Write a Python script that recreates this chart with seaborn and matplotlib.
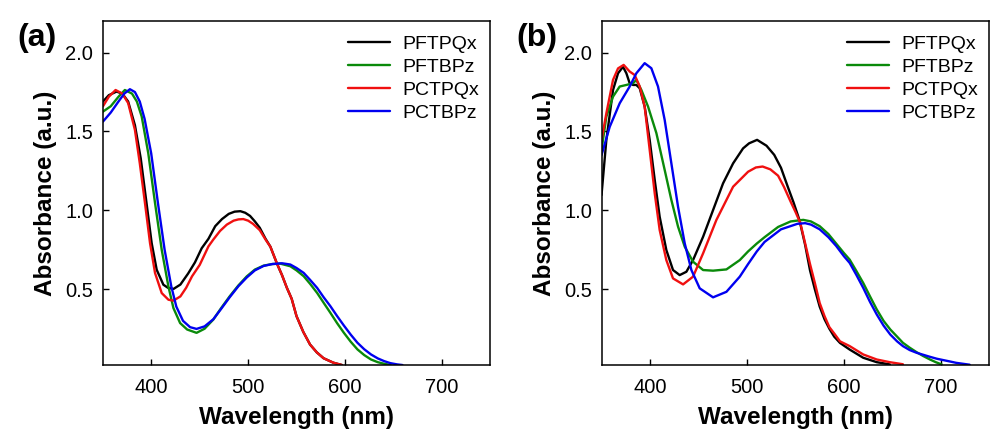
import numpy as np
import pandas as pd
import seaborn as sns
import matplotlib
matplotlib.use("Agg")
import matplotlib.pyplot as plt

series_names = ["PFTPQx", "PFTBPz", "PCTPQx", "PCTBPz"]
series_colors = ["#000000", "#0a8a0a", "#f01010", "#0000f0"]

# ---- Panel (a) ----
a_PFTPQx_x = [350, 356, 364, 370, 376, 383, 389, 395, 400.3, 405.5, 412.4, 417, 422.8, 430, 438, 445, 452, 459, 466, 473, 480, 486, 492, 497, 502, 507, 512, 518, 523, 530, 535, 540, 545, 550, 557, 564, 571, 578, 588, 597]
a_PFTPQx_y = [1.69, 1.73, 1.753, 1.74, 1.69, 1.54, 1.33, 1.046, 0.793, 0.624, 0.529, 0.51, 0.502, 0.53, 0.60, 0.67, 0.76, 0.82, 0.90, 0.945, 0.978, 0.992, 0.995, 0.985, 0.965, 0.93, 0.89, 0.82, 0.77, 0.66, 0.59, 0.51, 0.44, 0.33, 0.23, 0.15, 0.10, 0.063, 0.035, 0.02]

a_PCTPQx_x = [350, 356, 363, 370, 376, 383, 388, 393.4, 398.6, 403.8, 410.7, 417.6, 422.8, 430, 436, 442, 450, 459, 464, 471, 478, 485, 490, 495, 500, 505, 512, 518, 523, 530, 535, 540, 545, 550, 557, 564, 571, 578, 588, 597]
a_PCTPQx_y = [1.66, 1.72, 1.763, 1.74, 1.68, 1.51, 1.30, 1.046, 0.793, 0.603, 0.476, 0.434, 0.428, 0.455, 0.51, 0.582, 0.655, 0.772, 0.815, 0.87, 0.91, 0.935, 0.943, 0.945, 0.935, 0.915, 0.875, 0.815, 0.77, 0.66, 0.59, 0.51, 0.44, 0.33, 0.23, 0.15, 0.10, 0.063, 0.035, 0.02]

a_PFTBPz_x = [350, 358, 366, 372.6, 380, 385, 390, 396.8, 403.8, 410.7, 417.6, 422.8, 429.7, 437, 446.7, 455, 464, 472, 481, 490, 498.6, 507, 516, 525, 533, 543.6, 550, 557.4, 564, 571.3, 578, 585, 592, 599, 606, 613, 620, 627, 634, 640.5, 647.4]
a_PFTBPz_y = [1.626, 1.66, 1.72, 1.763, 1.74, 1.69, 1.595, 1.362, 1.046, 0.75, 0.518, 0.381, 0.286, 0.245, 0.224, 0.25, 0.308, 0.38, 0.456, 0.525, 0.582, 0.625, 0.65, 0.66, 0.663, 0.646, 0.62, 0.583, 0.535, 0.477, 0.415, 0.351, 0.285, 0.224, 0.168, 0.119, 0.083, 0.055, 0.038, 0.028, 0.02]

a_PCTBPz_x = [350, 358, 366, 372, 377.8, 383, 388, 393, 399.8, 406.8, 413.7, 420.6, 425.8, 432.7, 440, 446.7, 455, 464, 472, 481, 490, 498.6, 507, 516, 525, 535, 543.6, 550, 557.4, 564, 571.3, 578, 585, 592, 599, 606, 613, 620, 627, 634, 640.5, 647, 654, 659.5]
a_PCTBPz_y = [1.563, 1.62, 1.69, 1.74, 1.768, 1.75, 1.69, 1.58, 1.362, 1.046, 0.75, 0.518, 0.39, 0.30, 0.26, 0.249, 0.265, 0.31, 0.375, 0.45, 0.52, 0.575, 0.62, 0.648, 0.66, 0.665, 0.657, 0.635, 0.604, 0.56, 0.509, 0.45, 0.393, 0.33, 0.27, 0.213, 0.161, 0.12, 0.087, 0.062, 0.045, 0.032, 0.024, 0.02]

# ---- Panel (b) ----
b_PFTPQx_x = [349.5, 354.5, 361.4, 366.6, 371.7, 375.2, 378.6, 382.1, 385.5, 389, 394.1, 399.3, 404.5, 409.6, 416.5, 423.4, 430.3, 437.2, 444.1, 454.5, 464.8, 475.1, 485.5, 495.8, 502, 510.3, 520, 528, 535, 542, 548, 554, 560, 565, 570, 575, 580, 585, 590, 596, 606, 620, 634, 647.5]
b_PFTPQx_y = [1.097, 1.446, 1.763, 1.869, 1.91, 1.869, 1.806, 1.795, 1.795, 1.774, 1.658, 1.446, 1.193, 0.96, 0.749, 0.622, 0.59, 0.611, 0.685, 0.833, 1.002, 1.171, 1.298, 1.393, 1.425, 1.447, 1.41, 1.352, 1.27, 1.15, 1.05, 0.94, 0.78, 0.62, 0.50, 0.39, 0.31, 0.25, 0.20, 0.16, 0.118, 0.066, 0.038, 0.024]

b_PCTPQx_x = [349.5, 354.5, 361.4, 366.6, 372.4, 378.6, 383.8, 389, 394.1, 399.3, 404.5, 409.6, 416.5, 423.4, 433.8, 444.1, 454.5, 468.2, 485.5, 501, 509, 516, 524, 532, 538, 545, 550, 555, 560, 565, 570, 575, 580, 585, 590, 596, 606, 620, 634, 647.5, 661]
b_PCTPQx_y = [1.446, 1.615, 1.827, 1.90, 1.922, 1.88, 1.858, 1.785, 1.658, 1.383, 1.108, 0.876, 0.685, 0.569, 0.531, 0.58, 0.728, 0.939, 1.15, 1.245, 1.272, 1.278, 1.26, 1.22, 1.15, 1.055, 0.99, 0.92, 0.79, 0.66, 0.54, 0.413, 0.33, 0.26, 0.22, 0.17, 0.14, 0.087, 0.055, 0.038, 0.025]

b_PFTBPz_x = [349.5, 354.5, 361.4, 368.3, 375.2, 382.1, 385.5, 390.7, 397.6, 406.2, 414.8, 421.7, 428.6, 435.5, 444.1, 454.5, 464.8, 478.6, 492.4, 501, 510, 518, 532, 545, 558, 566, 575, 584, 592, 600, 606, 613, 620, 627, 634, 641, 648, 655, 661, 668, 675, 682, 689, 695, 701]
b_PFTBPz_y = [1.383, 1.594, 1.721, 1.785, 1.795, 1.806, 1.827, 1.763, 1.658, 1.49, 1.256, 1.066, 0.897, 0.77, 0.675, 0.622, 0.618, 0.626, 0.685, 0.74, 0.79, 0.83, 0.895, 0.93, 0.94, 0.93, 0.90, 0.85, 0.79, 0.73, 0.688, 0.615, 0.54, 0.455, 0.372, 0.30, 0.245, 0.20, 0.161, 0.13, 0.102, 0.077, 0.055, 0.038, 0.024]

b_PCTBPz_x = [349.5, 358, 368.3, 378.6, 385.5, 394.1, 401, 407.9, 414.8, 421.7, 428.6, 435.5, 442.4, 451, 464.8, 478.6, 492.4, 501, 510, 518, 535, 552, 560, 566, 575, 584, 592, 600, 606, 613, 620, 627, 634, 641, 648, 655, 661, 668, 675, 682, 689, 696, 703, 710, 716, 723, 730]
b_PCTBPz_y = [1.35, 1.53, 1.679, 1.785, 1.869, 1.933, 1.901, 1.785, 1.573, 1.298, 1.023, 0.791, 0.622, 0.506, 0.449, 0.484, 0.58, 0.66, 0.74, 0.80, 0.88, 0.915, 0.919, 0.91, 0.88, 0.83, 0.775, 0.71, 0.667, 0.59, 0.509, 0.42, 0.34, 0.27, 0.213, 0.17, 0.14, 0.115, 0.098, 0.085, 0.072, 0.06, 0.051, 0.042, 0.034, 0.028, 0.022]

panel_labels = ["(a)", "(b)"]
x_ticks = [400, 500, 600, 700]
y_ticks = [0.5, 1.0, 1.5, 2.0]
x_label = "Wavelength (nm)"
y_label = "Absorbance (a.u.)"


def build_df(xs, ys):
    frames = []
    for name, x, y in zip(series_names, xs, ys):
        frames.append(pd.DataFrame({"x": x, "y": y, "series": name}))
    return pd.concat(frames, ignore_index=True)


df_a = build_df([a_PFTPQx_x, a_PFTBPz_x, a_PCTPQx_x, a_PCTBPz_x],
                [a_PFTPQx_y, a_PFTBPz_y, a_PCTPQx_y, a_PCTBPz_y])
df_b = build_df([b_PFTPQx_x, b_PFTBPz_x, b_PCTPQx_x, b_PCTBPz_x],
                [b_PFTPQx_y, b_PFTBPz_y, b_PCTPQx_y, b_PCTBPz_y])

sns.set_style("ticks")
plt.rcParams["font.family"] = ["Liberation Sans", "DejaVu Sans"]
plt.rcParams["text.color"] = "black"
plt.rcParams["axes.labelcolor"] = "black"
plt.rcParams["xtick.color"] = "black"
plt.rcParams["ytick.color"] = "black"
plt.rcParams["lines.solid_joinstyle"] = "round"

fig = plt.figure(figsize=(9.98, 4.43), dpi=100)
ax_a = fig.add_axes([0.1032, 0.176, 0.3878, 0.7765])
ax_b = fig.add_axes([0.6032, 0.176, 0.3878, 0.7765])
palette = dict(zip(series_names, series_colors))

for ax, df, lab in [(ax_a, df_a, panel_labels[0]), (ax_b, df_b, panel_labels[1])]:
    sns.lineplot(data=df, x="x", y="y", hue="series", hue_order=series_names,
                 palette=palette, sort=False, estimator=None, linewidth=1.7,
                 ax=ax)
    ax.set_xlim(350, 750)
    ax.set_ylim(0.02, 2.2)
    ax.set_xticks(x_ticks)
    ax.set_yticks(y_ticks)
    ax.set_yticklabels([f"{v:.1f}" for v in y_ticks])
    ax.tick_params(direction="in", length=4, width=1, labelsize=14.5,
                   top=False, right=False, colors="black")
    ax.tick_params(axis="x", pad=9)
    ax.tick_params(axis="y", pad=7)
    for sp in ax.spines.values():
        sp.set_visible(True)
        sp.set_linewidth(1.1)
        sp.set_color("black")
    ax.set_xlabel(x_label, fontsize=17.5, fontweight="bold", labelpad=7)
    ax.set_ylabel(y_label, fontsize=17.5, fontweight="bold", labelpad=6)
    leg = ax.legend(loc="upper right", frameon=False, fontsize=14,
                    handlelength=2.2, handletextpad=0.6, labelspacing=0.27,
                    borderaxespad=0.3, bbox_to_anchor=(1.006, 0.998))
    for line in leg.get_lines():
        line.set_linewidth(1.7)
    ax.text(-0.222, 0.995, lab, transform=ax.transAxes, fontsize=23,
            fontweight="bold", ha="left", va="top")

fig.savefig("out.png", dpi=100)
